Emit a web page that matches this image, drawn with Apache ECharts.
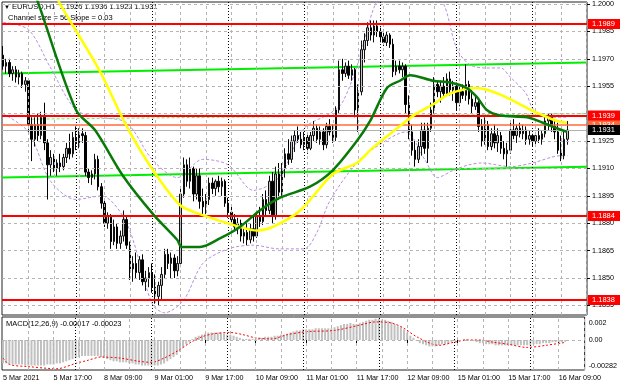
<!DOCTYPE html>
<html><head><meta charset="utf-8">
<script src="https://cdn.jsdelivr.net/npm/echarts@6/dist/echarts.min.js"></script>
<style>html,body{margin:0;padding:0;background:#fff}#c{width:620px;height:388px}</style>
</head><body><div id="c"></div>
<script>
// ---------- DATA ----------
const headerText = 'EURUSD,H1  1.1926 1.1936 1.1923 1.1931';
const channelText = 'Channel size = 56 Slope = 0.03';
const macdText = 'MACD(12,26,9) -0.00017 -0.00023';

const timeLabelIdx = [1,17,33,49,65,81,97,113,129,145,161,177];
const timeLabels = ['5 Mar 2021','5 Mar 17:00','8 Mar 09:00','9 Mar 01:00','9 Mar 17:00','10 Mar 09:00','11 Mar 01:00','11 Mar 17:00','12 Mar 09:00','15 Mar 01:00','15 Mar 17:00','16 Mar 09:00'];
const daySeparators = [24,48,72,96,120,144,168];
const vGrid = [9,17,25,33,41,49,57,65,73,81,89,97,105,113,121,129,137,145,153,161,169,177,185];
const priceGrid = [1.2000,1.1985,1.1970,1.1955,1.1940,1.1925,1.1910,1.1895,1.1880,1.1865,1.1850,1.1835];
const priceLabels = [1.2000,1.1985,1.1970,1.1955,1.1925,1.1910,1.1895,1.1880,1.1865,1.1850,1.1835];
const redLevels = [1.1989,1.1939,1.1884,1.1838];
const orangeLevel = 1.1934;
const bidLevel = 1.1931;
const macdTicks = [0.002,0,-0.00282];
const macdTickLabels = ['0.002','0.00','-0.00282'];

const O = [1.1972,1.1966,1.1968,1.1962,1.1964,1.1960,1.1962,1.1956,1.1958,1.1934,
1.1926,1.1934,1.1928,1.1938,1.1924,1.1912,1.1916,1.1910,1.1913,1.1911,
1.1916,1.1921,1.1918,1.1927,1.1924,1.1929,1.1928,1.1908,1.1905,1.1907,
1.1915,1.1900,1.1891,1.1880,1.1884,1.1870,1.1878,1.1869,1.1873,1.1882,
1.1868,1.1855,1.1858,1.1853,1.1860,1.1848,1.1850,1.1853,1.1845,1.1840,
1.1846,1.1852,1.1863,1.1858,1.1861,1.1854,1.1858,1.1896,1.1912,1.1903,
1.1910,1.1896,1.1906,1.1892,1.1889,1.1893,1.1902,1.1899,1.1903,1.1900,
1.1903,1.1891,1.1886,1.1882,1.1878,1.1880,1.1873,1.1875,1.1871,1.1877,
1.1873,1.1884,1.1881,1.1893,1.1887,1.1903,1.1884,1.1907,1.1897,1.1910,
1.1918,1.1915,1.1925,1.1928,1.1926,1.1923,1.1927,1.1921,1.1928,1.1932,
1.1926,1.1930,1.1923,1.1933,1.1930,1.1927,1.1942,1.1964,1.1962,1.1966,
1.1961,1.1964,1.1942,1.1952,1.1975,1.1980,1.1987,1.1983,1.1988,1.1985,
1.1982,1.1979,1.1983,1.1978,1.1963,1.1966,1.1964,1.1966,1.1945,1.1930,
1.1920,1.1915,1.1922,1.1931,1.1921,1.1932,1.1942,1.1956,1.1952,1.1955,
1.1951,1.1959,1.1953,1.1955,1.1946,1.1952,1.1950,1.1956,1.1948,1.1944,
1.1946,1.1933,1.1925,1.1934,1.1922,1.1929,1.1924,1.1928,1.1921,1.1918,
1.1920,1.1931,1.1928,1.1932,1.1929,1.1931,1.1926,1.1928,1.1925,1.1928,
1.1926,1.1929,1.1936,1.1938,1.1933,1.1930,1.1920,1.1917,1.1926];
const H = [1.1977,1.1970,1.1970,1.1966,1.1966,1.1964,1.1963,1.1960,1.1959,1.1938,
1.1938,1.1940,1.1941,1.1946,1.1926,1.1920,1.1918,1.1915,1.1918,1.1918,
1.1924,1.1929,1.1930,1.1933,1.1932,1.1932,1.1930,1.1910,1.1909,1.1918,
1.1917,1.1902,1.1893,1.1886,1.1885,1.1882,1.1880,1.1876,1.1887,1.1884,
1.1870,1.1862,1.1864,1.1862,1.1863,1.1854,1.1856,1.1858,1.1852,1.1848,
1.1856,1.1866,1.1866,1.1864,1.1863,1.1862,1.1900,1.1916,1.1915,1.1916,
1.1911,1.1910,1.1910,1.1899,1.1896,1.1905,1.1905,1.1904,1.1906,1.1905,
1.1904,1.1894,1.1889,1.1885,1.1883,1.1882,1.1878,1.1880,1.1880,1.1884,
1.1886,1.1889,1.1896,1.1898,1.1906,1.1908,1.1911,1.1913,1.1913,1.1921,
1.1926,1.1928,1.1931,1.1933,1.1930,1.1930,1.1929,1.1930,1.1936,1.1934,
1.1933,1.1932,1.1935,1.1937,1.1934,1.1944,1.1969,1.1970,1.1968,1.1969,
1.1967,1.1965,1.1956,1.1980,1.1984,1.1990,1.1991,1.1991,1.1991,1.1987,
1.1986,1.1985,1.1984,1.1981,1.1969,1.1969,1.1968,1.1967,1.1950,1.1934,
1.1925,1.1926,1.1935,1.1935,1.1935,1.1946,1.1960,1.1958,1.1958,1.1960,
1.1962,1.1963,1.1958,1.1957,1.1955,1.1956,1.1967,1.1958,1.1953,1.1950,
1.1948,1.1937,1.1938,1.1936,1.1932,1.1934,1.1932,1.1930,1.1925,1.1924,
1.1936,1.1937,1.1934,1.1935,1.1934,1.1933,1.1931,1.1929,1.1930,1.1932,
1.1931,1.1939,1.1940,1.1940,1.1937,1.1935,1.1928,1.1930,1.1936];
const L = [1.1964,1.1962,1.1960,1.1958,1.1957,1.1956,1.1954,1.1952,1.1930,1.1914,
1.1922,1.1925,1.1926,1.1920,1.1893,1.1906,1.1908,1.1906,1.1908,1.1909,
1.1913,1.1915,1.1916,1.1920,1.1921,1.1924,1.1906,1.1902,1.1901,1.1904,
1.1898,1.1888,1.1878,1.1877,1.1866,1.1868,1.1866,1.1866,1.1870,1.1866,
1.1849,1.1848,1.1850,1.1849,1.1846,1.1843,1.1845,1.1842,1.1836,1.1835,
1.1838,1.1850,1.1855,1.1850,1.1850,1.1851,1.1856,1.1894,1.1900,1.1899,
1.1892,1.1893,1.1888,1.1885,1.1885,1.1890,1.1896,1.1895,1.1897,1.1895,
1.1889,1.1883,1.1879,1.1876,1.1874,1.1870,1.1869,1.1868,1.1869,1.1870,
1.1872,1.1878,1.1879,1.1884,1.1885,1.1880,1.1882,1.1893,1.1895,1.1905,
1.1912,1.1913,1.1919,1.1924,1.1921,1.1920,1.1918,1.1920,1.1925,1.1924,
1.1923,1.1920,1.1921,1.1928,1.1924,1.1925,1.1940,1.1958,1.1960,1.1959,
1.1958,1.1938,1.1930,1.1950,1.1968,1.1977,1.1980,1.1979,1.1982,1.1979,
1.1977,1.1977,1.1976,1.1960,1.1961,1.1962,1.1960,1.1940,1.1926,1.1917,
1.1911,1.1913,1.1917,1.1918,1.1913,1.1930,1.1940,1.1949,1.1946,1.1949,
1.1950,1.1950,1.1947,1.1942,1.1944,1.1948,1.1947,1.1945,1.1940,1.1942,
1.1930,1.1922,1.1923,1.1920,1.1920,1.1921,1.1919,1.1918,1.1915,1.1911,
1.1918,1.1926,1.1924,1.1927,1.1926,1.1923,1.1923,1.1922,1.1923,1.1924,
1.1923,1.1927,1.1931,1.1930,1.1926,1.1918,1.1914,1.1915,1.1923];
const C = [1.1966,1.1968,1.1962,1.1964,1.1960,1.1962,1.1956,1.1958,1.1934,1.1926,
1.1934,1.1928,1.1938,1.1924,1.1912,1.1916,1.1910,1.1913,1.1911,1.1916,
1.1921,1.1918,1.1927,1.1924,1.1929,1.1928,1.1908,1.1905,1.1907,1.1915,
1.1900,1.1891,1.1880,1.1884,1.1870,1.1878,1.1869,1.1873,1.1882,1.1868,
1.1855,1.1858,1.1853,1.1860,1.1848,1.1850,1.1853,1.1845,1.1840,1.1846,
1.1852,1.1863,1.1858,1.1861,1.1854,1.1858,1.1896,1.1912,1.1903,1.1910,
1.1896,1.1906,1.1892,1.1889,1.1893,1.1902,1.1899,1.1903,1.1900,1.1903,
1.1891,1.1886,1.1882,1.1878,1.1880,1.1873,1.1875,1.1871,1.1877,1.1873,
1.1884,1.1881,1.1893,1.1887,1.1903,1.1884,1.1907,1.1897,1.1910,1.1918,
1.1915,1.1925,1.1928,1.1926,1.1923,1.1927,1.1921,1.1928,1.1932,1.1926,
1.1930,1.1923,1.1933,1.1930,1.1927,1.1942,1.1964,1.1962,1.1966,1.1961,
1.1964,1.1942,1.1952,1.1975,1.1980,1.1987,1.1983,1.1988,1.1985,1.1982,
1.1979,1.1983,1.1978,1.1963,1.1966,1.1964,1.1966,1.1945,1.1930,1.1920,
1.1915,1.1922,1.1931,1.1921,1.1932,1.1942,1.1956,1.1952,1.1955,1.1951,
1.1959,1.1953,1.1955,1.1946,1.1952,1.1950,1.1956,1.1948,1.1944,1.1946,
1.1933,1.1925,1.1934,1.1922,1.1929,1.1924,1.1928,1.1921,1.1918,1.1920,
1.1931,1.1928,1.1932,1.1929,1.1931,1.1926,1.1928,1.1925,1.1928,1.1926,
1.1929,1.1936,1.1938,1.1933,1.1930,1.1920,1.1917,1.1926,1.1931];

const maGreen = [[9.5,1.2013],[12.6,1.1998],[24,1.1942],[30,1.1931],[38.8,1.1906],[48.3,1.1885],[55.9,1.1871],[57.4,1.1867],[63.1,1.1867],[69.7,1.1872],[75.7,1.1878],[82,1.1887],[88.4,1.1894],[97.8,1.1900],[105,1.1909],[112.6,1.1925],[116.8,1.1936],[122.1,1.1954],[126.2,1.1958],[129.4,1.1961],[136.6,1.1958],[142,1.1957],[147.3,1.1954],[150.5,1.1949],[153.6,1.1942],[157.8,1.1939],[166.3,1.1938],[171.3,1.1935],[175.7,1.1932],[178.9,1.1930]];
const maYellow = [[14.2,1.2016],[19,1.2000],[31.6,1.1963],[40,1.1933],[48.3,1.1909],[56.8,1.1890],[63.1,1.1885],[75.7,1.1878],[81.1,1.1876],[86.1,1.1878],[94.7,1.1887],[105.1,1.1907],[112.6,1.1913],[117.4,1.1921],[124.6,1.1931],[131.3,1.1940],[136.6,1.1945],[142,1.1951],[150.5,1.1954],[155.5,1.1952],[160.9,1.1948],[166.3,1.1943],[171.3,1.1939],[175.7,1.1936],[178.9,1.1935]];
const bandUpper = [[1,1.1990],[9,1.1986],[16,1.1965],[24,1.1942],[32,1.1938],[40,1.1935],[48,1.1915],[56,1.1905],[64,1.1915],[72,1.1912],[80,1.1898],[88,1.1905],[96,1.1932],[104,1.1940],[108,1.1946],[113,1.1968],[118,1.1998],[122,1.2008],[135,1.2010],[140,1.2000],[144,1.1976],[148,1.1967],[153,1.1965],[158,1.1965],[161,1.1960],[166,1.1951],[168,1.1943],[172,1.1938],[179,1.1938]];
const bandLower = [[1,1.1940],[9,1.1930],[16,1.1903],[24,1.1893],[32,1.1895],[40,1.1880],[48,1.1836],[52,1.1831],[58,1.1838],[64,1.1858],[72,1.1866],[80,1.1868],[88,1.1866],[96,1.1866],[100,1.1875],[104,1.1892],[112,1.1912],[118,1.1921],[128,1.1930],[134,1.1915],[138,1.1905],[143,1.1909],[148,1.1912],[152,1.1913],[161,1.1911],[168,1.1913],[177,1.1917],[179,1.1917]];
const channelUpper = [[0.66,1.1962],[185.2,1.1968]];
const channelLower = [[0.66,1.1905],[185.2,1.1911]];
const dashedGreen = [[10,1.1937],[185.2,1.1940]];

const macdHist = [-0.0022,-0.0022,-0.0023,-0.0023,-0.0023,-0.0023,-0.0023,-0.0024,-0.0024,-0.0024,
-0.0024,-0.0024,-0.0024,-0.0024,-0.0023,-0.0023,-0.0023,-0.0022,-0.0022,-0.0021,
-0.0020,-0.0019,-0.0018,-0.0017,-0.0016,-0.0015,-0.0015,-0.0015,-0.0015,-0.0015,
-0.0015,-0.0016,-0.0017,-0.0018,-0.0019,-0.0020,-0.0020,-0.0021,-0.0021,-0.0021,
-0.0022,-0.0022,-0.0023,-0.0023,-0.0024,-0.0024,-0.0024,-0.0024,-0.0024,-0.0024,
-0.0023,-0.0022,-0.0020,-0.0018,-0.0016,-0.0014,-0.0011,-0.0007,-0.0004,-0.0002,
0.0001,0.0003,0.0004,0.0005,0.0006,0.0007,0.0007,0.0007,0.0007,0.0007,
0.0006,0.0005,0.0005,0.0004,0.0003,0.0002,0.0001,0.0001,0.0001,0.0001,
0.0001,0.0002,0.0002,0.0003,0.0003,0.0003,0.0004,0.0004,0.0005,0.0005,
0.0006,0.0007,0.0008,0.0009,0.0009,0.0010,0.0010,0.0010,0.0010,0.0011,
0.0011,0.0011,0.0011,0.0011,0.0011,0.0012,0.0013,0.0014,0.0015,0.0015,
0.0016,0.0015,0.0015,0.0016,0.0017,0.0018,0.0019,0.0019,0.0020,0.0020,
0.0019,0.0019,0.0018,0.0017,0.0015,0.0013,0.0012,0.0010,0.0007,0.0004,
0.0002,-0.0001,-0.0003,-0.0004,-0.0005,-0.0006,-0.0006,-0.0006,-0.0005,-0.0004,
-0.0004,-0.0003,-0.0002,-0.0001,0.0000,0.0000,0.0001,0.0001,0.0000,-0.0001,
-0.0002,-0.0003,-0.0003,-0.0004,-0.0004,-0.0004,-0.0005,-0.0005,-0.0005,-0.0005,
-0.0005,-0.0005,-0.0005,-0.0005,-0.0005,-0.0005,-0.0005,-0.0005,-0.0004,-0.0004,
-0.0004,-0.0003,-0.0003,-0.0003,-0.0002,-0.0002,-0.0002,-0.0002,-0.00017];
const macdSignal = [[1,-0.0017],[3,-0.0023],[9,-0.0025],[18,-0.0027],[24,-0.0022],[28,-0.0019],[32,-0.0016],[38,-0.0017],[44,-0.0020],[48,-0.0021],[52,-0.0017],[57,-0.0009],[60,-0.0003],[64,0.0003],[68,0.0006],[73,0.0007],[77,0.0005],[81,0.0002],[86,0.0001],[91,0.0005],[95,0.0007],[98,0.0008],[106,0.0009],[114,0.0014],[119,0.0017],[124,0.0016],[128,0.0011],[132,0.0003],[139,-0.0005],[144,-0.0002],[148,0],[152,0],[156,-0.0002],[161,-0.0004],[167,-0.0007],[173,-0.0005],[179,-0.00023]];

// ---------- CHART ----------
const FONT = 'Liberation Sans, Arial, sans-serif';
const X_MIN = 0.66, X_MAX = 185.2;
const candleData = O.map((o, k) => [k + 1, o, C[k], L[k], H[k]]);
const histData = macdHist.map((v, k) => [k + 1, v]);

const chart = echarts.init(document.getElementById('c'), null, {renderer: 'canvas'});

function vLines(vals, style) {
  return vals.map(v => ({xAxis: v, lineStyle: style}));
}
function boxLabel(txt, bg, fg) {
  return {show: true, position: 'end', distance: 1, formatter: txt, backgroundColor: bg, color: fg,
          fontSize: 7.5, fontFamily: FONT, padding: [1, 6, 1, 4]};
}
const gridStyle = {color: '#b4b4b4', type: [3, 3], width: 1};
const sepStyle = {color: '#000', type: [1, 2], width: 1};

const option = {
  animation: false,
  backgroundColor: '#fff',
  textStyle: {fontFamily: FONT},
  grid: [
    {left: 2, top: 2, width: 585, height: 313, show: true, borderColor: '#222', borderWidth: 1, backgroundColor: '#fff'},
    {left: 2, top: 317, width: 585, height: 53, show: true, borderColor: '#222', borderWidth: 1, backgroundColor: '#fff'}
  ],
  xAxis: [
    {type: 'value', gridIndex: 0, min: X_MIN, max: X_MAX, axisLine: {show: false}, axisTick: {show: false},
     axisLabel: {show: false}, splitLine: {show: false}},
    {type: 'value', gridIndex: 1, min: X_MIN, max: X_MAX, axisLine: {show: false},
     axisTick: {show: true, customValues: timeLabelIdx, length: 3, lineStyle: {color: '#000'}},
     axisLabel: {show: true, customValues: timeLabelIdx, align: 'left', margin: 5, fontSize: 7.2, color: '#000',
       fontFamily: FONT, formatter: v => timeLabels[timeLabelIdx.indexOf(Math.round(v))] || ''},
     splitLine: {show: false}}
  ],
  yAxis: [
    {type: 'value', gridIndex: 0, position: 'right', min: 1.18298, max: 1.20011, scale: true,
     axisLine: {show: false},
     axisTick: {show: true, customValues: priceLabels, length: 3, lineStyle: {color: '#000'}},
     axisLabel: {show: true, customValues: priceLabels, margin: 5, fontSize: 7.2, color: '#000', fontFamily: FONT,
       formatter: v => v.toFixed(4)},
     splitLine: {show: false}},
    {type: 'value', gridIndex: 1, position: 'right', min: -0.00282, max: 0.00216,
     axisLine: {show: false},
     axisTick: {show: false},
     axisLabel: {show: true, customValues: macdTicks, margin: 4, fontSize: 7.2, color: '#000', fontFamily: FONT,
       formatter: v => {
         const k = macdTicks.findIndex(t => Math.abs(t - v) < 1e-7);
         if (k === 0) return '{t|' + macdTickLabels[k] + '}';
         if (k === 2) return '{b|' + macdTickLabels[k] + '}';
         return macdTickLabels[k];
       },
       rich: {t: {padding: [8, 0, 0, 0], fontSize: 7.2, fontFamily: FONT}, b: {padding: [0, 0, 8, 0], fontSize: 7.2, fontFamily: FONT}}},
     splitLine: {show: false}}
  ],
  graphic: [
    {type: 'text', left: 4, top: 4, style: {text: '\u25BC', fontSize: 6, fill: '#000', fontFamily: FONT}},
    {type: 'text', left: 12, top: 3, style: {text: headerText, fontSize: 7.5, fill: '#000', fontFamily: FONT}},
    {type: 'text', left: 8, top: 14, style: {text: channelText, fontSize: 7.5, fill: '#000', fontFamily: FONT}},
    {type: 'text', left: 6, top: 320, style: {text: macdText, fontSize: 7.5, fill: '#000', fontFamily: FONT}}
  ],
  series: [
    {type: 'line', xAxisIndex: 0, yAxisIndex: 0, data: [], silent: true, z: 1,
     markLine: {silent: true, precision: 6, symbol: ['none', 'none'], animation: false, label: {show: false},
       data: priceGrid.map(v => ({yAxis: v, lineStyle: gridStyle}))
             .concat(vLines(vGrid, gridStyle))
             .concat(vLines(daySeparators, sepStyle))}},
    {type: 'line', xAxisIndex: 1, yAxisIndex: 1, data: [], silent: true, z: 1,
     markLine: {silent: true, precision: 6, symbol: ['none', 'none'], animation: false, label: {show: false},
       data: [{yAxis: 0, lineStyle: gridStyle}]
             .concat(vLines(vGrid, gridStyle))
             .concat(vLines(daySeparators, sepStyle))}},
    {type: 'line', xAxisIndex: 0, yAxisIndex: 0, data: channelUpper, symbol: 'none', z: 3,
     lineStyle: {color: '#00ee00', width: 2}},
    {type: 'line', xAxisIndex: 0, yAxisIndex: 0, data: channelLower, symbol: 'none', z: 3,
     lineStyle: {color: '#00ee00', width: 2}},
    {type: 'line', xAxisIndex: 0, yAxisIndex: 0, data: dashedGreen, symbol: 'none', z: 3,
     lineStyle: {color: '#66ee66', width: 1, type: [3, 2]}},
    {type: 'line', xAxisIndex: 0, yAxisIndex: 0, data: bandUpper, symbol: 'none', z: 3, smooth: 0.3,
     lineStyle: {color: '#b88de0', width: 1, type: [3, 2]}},
    {type: 'line', xAxisIndex: 0, yAxisIndex: 0, data: bandLower, symbol: 'none', z: 3, smooth: 0.3,
     lineStyle: {color: '#b88de0', width: 1, type: [3, 2]}},
    {type: 'candlestick', xAxisIndex: 0, yAxisIndex: 0, data: candleData, barWidth: 2, z: 4,
     encode: {x: 0, y: [1, 2, 3, 4]},
     itemStyle: {color: '#c4c4c4', color0: '#000', borderColor: '#111', borderColor0: '#000', borderWidth: 1}},
    {type: 'line', xAxisIndex: 0, yAxisIndex: 0, data: maYellow, symbol: 'none', z: 5, smooth: 0.3,
     lineStyle: {color: '#ffff00', width: 2.5}},
    {type: 'line', xAxisIndex: 0, yAxisIndex: 0, data: maGreen, symbol: 'none', z: 6, smooth: 0.3,
     lineStyle: {color: '#087a08', width: 2.5}},
    {type: 'line', xAxisIndex: 0, yAxisIndex: 0, data: [], z: 7,
     markLine: {silent: true, precision: 6, symbol: ['none', 'none'], animation: false,
       data: [
         {yAxis: orangeLevel, lineStyle: {color: '#ff6a3d', width: 1.5, type: 'solid'}, label: boxLabel(orangeLevel.toFixed(4), '#ff6a3d', '#fff')},
         {yAxis: bidLevel, lineStyle: {color: '#b0b0b0', width: 1, type: 'solid'}, label: boxLabel(bidLevel.toFixed(4), '#000', '#fff')}
       ].concat(redLevels.map(v => ({yAxis: v, lineStyle: {color: '#ff0000', width: 2, type: 'solid'},
                                     label: boxLabel(v.toFixed(4), '#ff0000', '#fff')})))}},
    {type: 'bar', xAxisIndex: 1, yAxisIndex: 1, data: histData, barWidth: 2, z: 3,
     itemStyle: {color: '#c0c0c0'}},
    {type: 'line', xAxisIndex: 1, yAxisIndex: 1, data: macdSignal, symbol: 'none', z: 4, smooth: 0.3,
     lineStyle: {color: '#ff0000', width: 1, type: [2, 2]}}
  ]
};
chart.setOption(option);
</script></body></html>
